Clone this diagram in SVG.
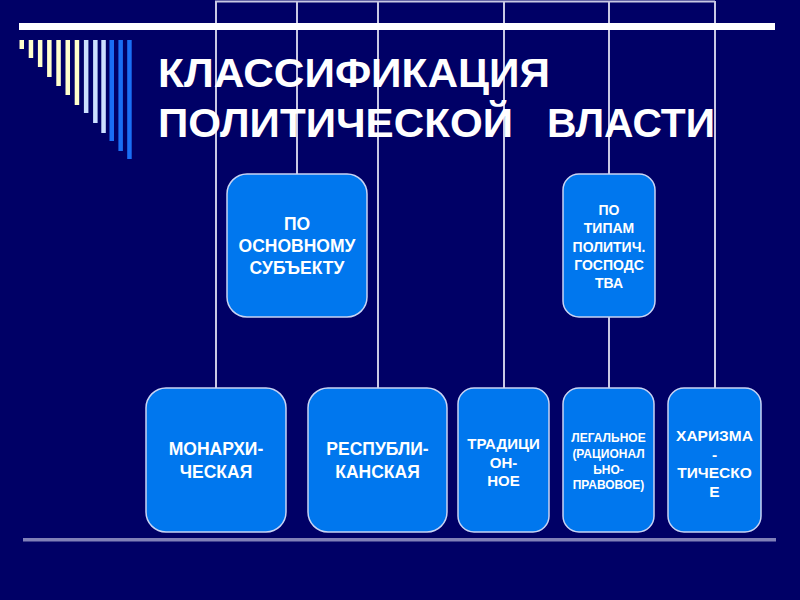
<svg xmlns="http://www.w3.org/2000/svg" width="800" height="600" viewBox="0 0 800 600">
<defs>
<style>
.bg{fill:#000066}
.box{fill:#0077EE;stroke:#C8D4F4;stroke-width:1.5}
.conn line{stroke:#C8C8E4;stroke-width:2}
.t{font-family:"Liberation Sans",Arial,sans-serif;font-weight:bold;fill:#FFFFFF;text-anchor:middle}
.title{font-family:"Liberation Sans",Arial,sans-serif;font-weight:bold;fill:#FFFFFF;font-size:41px}
.cr{fill:#FFFFCC}
.lb{fill:#CCE0FF}
.db{fill:#1A6EF5}
</style>
</defs>
<rect class="bg" x="0" y="0" width="800" height="600"/>
<g id="connectors" class="conn">
<line x1="215" y1="1.5" x2="715" y2="1.5"/>
<line x1="216" y1="1" x2="216" y2="388"/>
<line x1="297" y1="1" x2="297" y2="174"/>
<line x1="378" y1="1" x2="378" y2="388"/>
<line x1="504" y1="1" x2="504" y2="388"/>
<line x1="609" y1="1" x2="609" y2="174"/>
<line x1="609" y1="317" x2="609" y2="388"/>
<line x1="715" y1="1" x2="715" y2="388"/>
</g>
<g id="decor">
<rect x="19" y="23" width="756" height="7" fill="#FFFFFF"/>
<rect class="cr" x="19.5" y="40" width="4.5" height="9"/>
<rect class="cr" x="28.7" y="40" width="4.5" height="18"/>
<rect class="cr" x="37.9" y="40" width="4.5" height="27"/>
<rect class="cr" x="47.1" y="40" width="4.5" height="37"/>
<rect class="cr" x="56.3" y="40" width="4.5" height="46"/>
<rect class="cr" x="65.5" y="40" width="4.5" height="55"/>
<rect class="cr" x="74.7" y="40" width="4.5" height="65"/>
<rect class="lb" x="83.9" y="40" width="4.5" height="73"/>
<rect class="lb" x="93.1" y="40" width="4.5" height="83"/>
<rect class="lb" x="101.3" y="40" width="4.5" height="93"/>
<rect class="db" x="109.5" y="40" width="4.5" height="101"/>
<rect class="db" x="118.4" y="40" width="4.5" height="111"/>
<rect class="db" x="127.2" y="40" width="4.5" height="119"/>
<rect x="23" y="538" width="753" height="3.5" fill="#8080B8"/>
</g>
<g id="title">
<text class="title" x="158" y="87" textLength="392" lengthAdjust="spacingAndGlyphs">КЛАССИФИКАЦИЯ</text>
<text class="title" x="158" y="137"><tspan textLength="355" lengthAdjust="spacingAndGlyphs">ПОЛИТИЧЕСКОЙ</tspan><tspan x="547" textLength="168" lengthAdjust="spacingAndGlyphs">ВЛАСТИ</tspan></text>
</g>
<g id="node-subject">
<rect class="box" x="227" y="174" width="140" height="143" rx="20"/>
<text class="t" font-size="17.5" x="297" y="230">ПО</text>
<text class="t" font-size="17.5" x="297" y="252">ОСНОВНОМУ</text>
<text class="t" font-size="17.5" x="297" y="274">СУБЪЕКТУ</text>
</g>
<g id="node-types">
<rect class="box" x="563" y="174" width="92" height="143" rx="16"/>
<text class="t" font-size="14" x="609" y="215">ПО</text>
<text class="t" font-size="14" x="609" y="233">ТИПАМ</text>
<text class="t" font-size="14" x="609" y="252">ПОЛИТИЧ.</text>
<text class="t" font-size="14" x="609" y="270">ГОСПОДС</text>
<text class="t" font-size="14" x="609" y="288">ТВА</text>
</g>
<g id="node-monarchy">
<rect class="box" x="146" y="388" width="140" height="144" rx="20"/>
<text class="t" font-size="17.5" x="216" y="455">МОНАРХИ-</text>
<text class="t" font-size="17.5" x="216" y="478">ЧЕСКАЯ</text>
</g>
<g id="node-republic">
<rect class="box" x="308" y="388" width="139" height="144" rx="20"/>
<text class="t" font-size="17.5" x="377.5" y="455">РЕСПУБЛИ-</text>
<text class="t" font-size="17.5" x="377.5" y="478">КАНСКАЯ</text>
</g>
<g id="node-traditional">
<rect class="box" x="458" y="388" width="91" height="144" rx="16"/>
<text class="t" font-size="15" x="503.5" y="449">ТРАДИЦИ</text>
<text class="t" font-size="15" x="503.5" y="468">ОН-</text>
<text class="t" font-size="15" x="503.5" y="486">НОЕ</text>
</g>
<g id="node-legal">
<rect class="box" x="563" y="388" width="91" height="144" rx="16"/>
<text class="t" font-size="12" x="608.5" y="442">ЛЕГАЛЬНОЕ</text>
<text class="t" font-size="12" x="608.5" y="458">(РАЦИОНАЛ</text>
<text class="t" font-size="12" x="608.5" y="474">ЬНО-</text>
<text class="t" font-size="12" x="608.5" y="489">ПРАВОВОЕ)</text>
</g>
<g id="node-charismatic">
<rect class="box" x="668" y="388" width="93" height="144" rx="16"/>
<text class="t" font-size="15.5" x="714.5" y="441">ХАРИЗМА</text>
<text class="t" font-size="15.5" x="714.5" y="460">-</text>
<text class="t" font-size="15.5" x="714.5" y="478">ТИЧЕСКО</text>
<text class="t" font-size="15.5" x="714.5" y="497">Е</text>
</g>
</svg>
